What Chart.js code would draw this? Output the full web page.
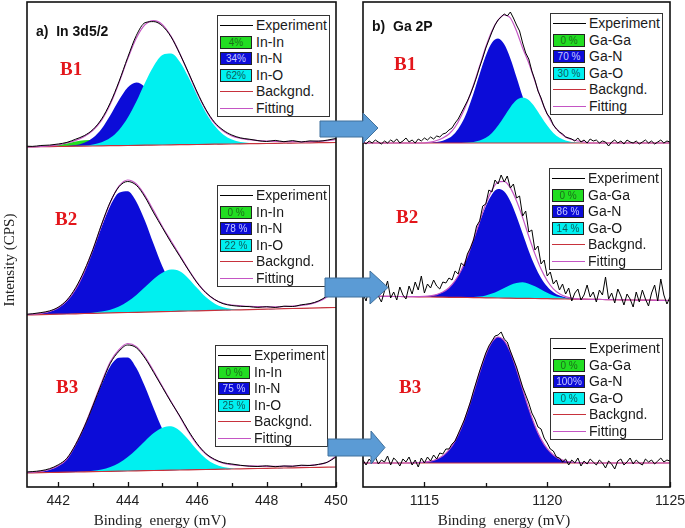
<!DOCTYPE html>
<html>
<head>
<meta charset="utf-8">
<script src="https://cdn.jsdelivr.net/npm/chart.js@4.4.1/dist/chart.umd.min.js"></script>
<style>
  html, body { margin: 0; padding: 0; background: #fff; }
  #wrap { position: relative; width: 685px; height: 528px; overflow: hidden; font-family: "Liberation Sans", Arial, sans-serif; }
  canvas { position: absolute; top: 0; }
  .leg { position: absolute; width: 113px; height: 102px; border: 1px solid #333; background: #fff; box-sizing: border-box; padding-top: 1px; }
  .row { position: relative; height: 16.6px; }
  .sw { position: absolute; left: 2px; top: 2px; width: 32px; height: 13px; box-sizing: border-box; border: 1px solid #222; font-size: 10px; line-height: 11px; text-align: center; }
  .ln { position: absolute; left: 2px; top: 8px; width: 33px; height: 0; border-top: 1.3px solid #000; }
  .tx { position: absolute; left: 38px; top: 0; font-size: 14px; line-height: 16.6px; color: #1a1a1a; white-space: nowrap; }
  .blab { position: absolute; font-family: "Liberation Serif", serif; font-weight: bold; font-size: 19px; color: #e3161b; transform: translateY(-50%); }
  .ptitle { position: absolute; font-weight: bold; font-size: 14px; color: #111; white-space: pre; transform: translateY(-50%); }
  .xt { position: absolute; top: 520px; font-family: "Liberation Serif", serif; font-size: 15px; color: #222; white-space: pre; transform: translate(-50%, -50%); }
  .yt { position: absolute; left: 9px; top: 260px; font-family: "Liberation Serif", serif; font-size: 15px; color: #222; white-space: nowrap; transform: translate(-50%, -50%) rotate(-90deg); }
</style>
</head>
<body>
<div id="wrap">
  <canvas id="cIn" width="360" height="528" style="left:0"></canvas>
  <canvas id="cGa" width="360" height="528" style="left:345px"></canvas>
  <div id="over"></div>
  <svg width="685" height="528" style="position:absolute;left:0;top:0">
    <polygon points="320,121 363,121 363,113 378,128 363,143 363,137 320,137" fill="#5b9bd5" stroke="#41719c" stroke-width="1"/>
    <polygon points="325,278 370,278 370,271 388,287.5 370,304 370,297 325,297" fill="#5b9bd5" stroke="#41719c" stroke-width="1"/>
    <polygon points="328,439 371,439 371,431 385,447.5 371,464 371,456 328,456" fill="#5b9bd5" stroke="#41719c" stroke-width="1"/>
  </svg>
</div>
<script>
// ---- data: In 3d5/2 (binding energy grid, heights above background) ----
const xIn = [441, 441.25, 441.5, 441.75, 442, 442.25, 442.5, 442.75, 443, 443.25, 443.5, 443.75, 444, 444.25, 444.5, 444.75, 445, 445.25, 445.5, 445.75, 446, 446.25, 446.5, 446.75, 447, 447.25, 447.5, 447.75, 448, 448.25, 448.5, 448.75, 449, 449.25, 449.5, 449.75, 450];
const xInTicks = [442, 444, 446, 448, 450];
const xInMinor = [443, 445, 447, 449];
const inOffsets = [340, 172, 14];

const inB1Bg = [0, 0.1, 0.3, 0.4, 0.5, 0.6, 0.8, 0.9, 1, 1.1, 1.3, 1.4, 1.5, 1.6, 1.8, 1.9, 2, 2.1, 2.3, 2.4, 2.5, 2.6, 2.8, 2.9, 3, 3.1, 3.3, 3.4, 3.5, 3.6, 3.8, 3.9, 4, 4.1, 4.3, 4.4, 4.5];
const inB1InIn = [0, 0, 0, 0.7, 1.6, 3, 4.6, 5.8, 5.9, 4.9, 3.3, 1.8, 0.8, 0.3, 0, 0, 0, 0, 0, 0, 0, 0, 0, 0, 0, 0, 0, 0, 0, 0, 0, 0, 0, 0, 0, 0, 0];
const inB1InN = [0, 0, 0, 0, 0, 0.4, 1.2, 3.4, 8.3, 17.2, 30.4, 45.5, 58, 63, 58, 45.5, 30.4, 17.2, 8.3, 3.4, 1.2, 0.4, 0, 0, 0, 0, 0, 0, 0, 0, 0, 0, 0, 0, 0, 0, 0];
const inB1InO = [0, 0, 0, 0, 0, 0, 0, 0.5, 1.5, 3.6, 7.9, 15.7, 27.8, 44, 62.5, 79, 90, 91.3, 83, 67.5, 49, 32, 18.7, 9.7, 4.5, 1.9, 0.7, 0, 0, 0, 0, 0, 0, 0, 0, 0, 0];
const inB1Fit = [0, 0, 0.3, 0.8, 1.7, 3.4, 5.8, 9.7, 15.7, 25.7, 41.6, 63, 86.6, 107.3, 120.5, 124.5, 120.4, 108.5, 91.3, 71.5, 51.5, 34.5, 21, 13, 8, 5.5, 4, 3, 2.5, 2, 1.5, 1.5, 1.2, 1.2, 1.5, 2, 3];
const inB1Exp = [1, 0.5, 1.2, 1.5, 2.5, 4, 7, 10.5, 16.5, 27, 43, 64, 88, 110, 122.5, 123.5, 119, 108, 91, 72, 52.5, 35, 22, 14, 9, 6, 4.5, 3, 2, 3, 1.5, 2.5, 1, 2, 1.5, 2.5, 4];

const inB2Bg = [0, 0.2, 0.4, 0.6, 0.8, 1, 1.2, 1.5, 1.7, 1.9, 2.1, 2.3, 2.5, 2.7, 2.9, 3.1, 3.3, 3.5, 3.8, 4, 4.2, 4.4, 4.6, 4.8, 5, 5.2, 5.4, 5.6, 5.8, 6, 6.3, 6.5, 6.7, 6.9, 7.1, 7.3, 7.5];
const inB2InN = [0, 0.4, 1.1, 2.7, 6.3, 13.1, 24.5, 41.4, 63, 86.3, 107.2, 120, 121.3, 110.6, 91, 67.6, 45.3, 27.5, 14.9, 7.4, 3.3, 1.4, 0.5, 0, 0, 0, 0, 0, 0, 0, 0, 0, 0, 0, 0, 0, 0];
const inB2InO = [0, 0, 0, 0, 0, 0, 0, 0, 0.6, 1.5, 3.1, 6.2, 10.9, 17.4, 25.2, 33, 39, 42, 40, 32.6, 22.8, 13.6, 6.9, 3, 1.1, 0.4, 0, 0, 0, 0, 0, 0, 0, 0, 0, 0, 0];
const inB2Fit = [0.3, 0.6, 1.3, 2.9, 6.5, 13.3, 24.7, 41.6, 63.6, 88, 110.5, 126.5, 132.5, 128.3, 116.5, 101, 85, 70.5, 56, 41.5, 28.5, 18, 11, 7, 5, 4, 3.2, 2.8, 2.4, 2.2, 2.2, 2.4, 3, 4, 6.5, 11, 19];
const inB2Exp = [0.5, 1, 2, 3.5, 7, 14, 26, 43, 64, 89, 111, 126, 131, 127, 115, 99, 84, 69, 55, 41, 28, 18, 11, 6.5, 4.5, 3.5, 3, 2, 2.5, 1.5, 2.5, 2, 3.5, 4.5, 7, 12, 20];

const inB3Bg = [0, 0.2, 0.3, 0.5, 0.7, 0.8, 1, 1.2, 1.3, 1.5, 1.7, 1.8, 2, 2.2, 2.3, 2.5, 2.7, 2.8, 3, 3.2, 3.3, 3.5, 3.7, 3.8, 4, 4.2, 4.3, 4.5, 4.7, 4.8, 5, 5.2, 5.3, 5.5, 5.7, 5.8, 6];
const inB3InN = [0, 0.4, 1.1, 2.8, 6.3, 13, 27, 45, 66, 87, 105, 113.4, 113.6, 102.8, 83.9, 61.9, 41.1, 24.7, 13.4, 6.5, 2.9, 1.2, 0.4, 0, 0, 0, 0, 0, 0, 0, 0, 0, 0, 0, 0, 0, 0];
const inB3InO = [0, 0, 0, 0, 0, 0, 0, 0, 0.9, 2.1, 4.4, 8.2, 13.9, 21.4, 29.7, 37.4, 42.6, 44, 39.3, 30.1, 19.8, 11.1, 5.3, 2.2, 0.8, 0, 0, 0, 0, 0, 0, 0, 0, 0, 0, 0, 0];
const inB3Fit = [0.3, 0.6, 1.3, 3, 6.5, 13.2, 27.2, 45.2, 66.9, 89.1, 109.4, 121.6, 127.5, 124.2, 113.6, 99.3, 83.7, 68.7, 53.5, 38, 25, 15.5, 9.5, 6, 4.3, 3.3, 2.8, 2.4, 2, 1.8, 1.8, 1.8, 2, 2.2, 2.8, 5, 11];
const inB3Exp = [0.8, 1.2, 2, 3.8, 7.5, 14, 27.5, 45, 66, 88, 108, 120, 126, 123, 112.5, 98, 83, 68, 54, 39, 26, 16, 10, 6.5, 5, 3.5, 2.5, 2, 2.5, 1.5, 2, 1.5, 2.5, 2, 3, 5, 10];

// ---- data: Ga 2P ----
const xGa = [1112.5, 1112.75, 1113, 1113.25, 1113.5, 1113.75, 1114, 1114.25, 1114.5, 1114.75, 1115, 1115.25, 1115.5, 1115.75, 1116, 1116.25, 1116.5, 1116.75, 1117, 1117.25, 1117.5, 1117.75, 1118, 1118.25, 1118.5, 1118.75, 1119, 1119.25, 1119.5, 1119.75, 1120, 1120.25, 1120.5, 1120.75, 1121, 1121.25, 1121.5, 1121.75, 1122, 1122.25, 1122.5, 1122.75, 1123, 1123.25, 1123.5, 1123.75, 1124, 1124.25, 1124.5, 1124.75, 1125];
const xGaExp = [1112.5, 1112.625, 1112.75, 1112.875, 1113, 1113.125, 1113.25, 1113.375, 1113.5, 1113.625, 1113.75, 1113.875, 1114, 1114.125, 1114.25, 1114.375, 1114.5, 1114.625, 1114.75, 1114.875, 1115, 1115.125, 1115.25, 1115.375, 1115.5, 1115.625, 1115.75, 1115.875, 1116, 1116.125, 1116.25, 1116.375, 1116.5, 1116.625, 1116.75, 1116.875, 1117, 1117.125, 1117.25, 1117.375, 1117.5, 1117.625, 1117.75, 1117.875, 1118, 1118.125, 1118.25, 1118.375, 1118.5, 1118.625, 1118.75, 1118.875, 1119, 1119.125, 1119.25, 1119.375, 1119.5, 1119.625, 1119.75, 1119.875, 1120, 1120.125, 1120.25, 1120.375, 1120.5, 1120.625, 1120.75, 1120.875, 1121, 1121.125, 1121.25, 1121.375, 1121.5, 1121.625, 1121.75, 1121.875, 1122, 1122.125, 1122.25, 1122.375, 1122.5, 1122.625, 1122.75, 1122.875, 1123, 1123.125, 1123.25, 1123.375, 1123.5, 1123.625, 1123.75, 1123.875, 1124, 1124.125, 1124.25, 1124.375, 1124.5, 1124.625, 1124.75, 1124.875, 1125];
const xGaTicks = [1115, 1120, 1125];
const xGaMinor = [1117.5, 1122.5];
const gaOffsets = [344, 191, 24];

const gaB1Bg = [0, 0, 0, 0, 0, 0, 0, 0, 0, 0, 0, 0, 0, 0, 0, 0, 0, 0, 0, 0, 0, 0, 0, 0, 0, 0, 0, 0, 0, 0, 0, 0, 0, 0, 0, 0, 0, 0, 0, 0, 0, 0, 0, 0, 0, 0, 0, 0, 0, 0, 0];
const gaB1GaN = [0, 0, 0, 0, 0, 0, 0, 0, 0, 0, 0.1, 0.3, 0.9, 2.2, 4.9, 10.1, 18.9, 32.1, 49.4, 68.9, 87.3, 100.3, 104.5, 98.7, 84.6, 65.8, 46.4, 29.6, 17.2, 9, 4.3, 1.9, 0.7, 0.3, 0, 0, 0, 0, 0, 0, 0, 0, 0, 0, 0, 0, 0, 0, 0, 0, 0];
const gaB1GaO = [0, 0, 0, 0, 0, 0, 0, 0, 0, 0, 0, 0, 0, 0, 0, 0, 0, 0.4, 1, 2.4, 5.2, 10.1, 17.4, 26.5, 35.8, 42.9, 45.5, 42.9, 35.8, 26.5, 17.4, 10.1, 5.2, 2.4, 1, 0.4, 0, 0, 0, 0, 0, 0, 0, 0, 0, 0, 0, 0, 0, 0, 0];
const gaB1Fit = [0, 0, 0, 0, 0, 0, 0, 0, 0, 0, 0, 0.8, 2.5, 5, 9, 16, 27, 41, 58, 77, 96, 112, 123, 128, 125, 112, 95, 80, 62, 44, 29, 18, 11, 6, 3.5, 2, 1, 0, 0, 0, 0, 0, 0, 0, 0, 0, 0, 0, 0, 0, 0];
const gaB1Exp = [1, -1, 2, 0, 3, 1, -1, 2, 0, 3, 1, 4, 0, 2, 5, 1, 3, 0, 4, 2, 5, 3, 6, 4, 7, 6, 9, 10, 13, 15, 20, 24, 30, 36, 42, 49, 57, 66, 76, 85, 95, 103, 111, 118, 123, 126, 129, 127, 131, 125, 118, 112, 100, 90, 84, 72, 63, 52, 45, 36, 29, 25, 18, 14, 11, 9, 6, 5, 4, 2, 5, 1, 3, 0, 4, 2, 3, 0, 2, 1, -3, 1, 3, 0, 2, -1, 3, 1, 0, 2, -1, 1, 3, 0, 2, -1, 1, 3, 0, 2, 1];

const gaB2Bg = [0, -0.1, -0.2, -0.3, -0.4, -0.5, -0.5, -0.6, -0.7, -0.8, -0.9, -1, -1.1, -1.2, -1.3, -1.4, -1.4, -1.5, -1.6, -1.7, -1.8, -1.9, -2, -2.1, -2.2, -2.3, -2.3, -2.4, -2.5, -2.6, -2.7, -2.8, -2.9, -3, -3.1, -3.2, -3.2, -3.3, -3.4, -3.5, -3.6, -3.7, -3.8, -3.9, -4, -4.1, -4.1, -4.2, -4.3, -4.4, -4.5];
const gaB2GaN = [0, 0, 0, 0, 0, 0, 0, 0, 0, 0.2, 0.5, 1.2, 2.5, 5.1, 9.6, 16.8, 27.2, 41, 57.6, 75.3, 91.5, 103.5, 109, 106.5, 97, 82.1, 64.7, 47.4, 32.4, 20.5, 12.1, 6.6, 3.4, 1.6, 0.7, 0.3, 0, 0, 0, 0, 0, 0, 0, 0, 0, 0, 0, 0, 0, 0, 0];
const gaB2GaO = [0, 0, 0, 0, 0, 0, 0, 0, 0, 0, 0, 0, 0, 0, 0, 0, 0, 0, 0.5, 1.2, 2.4, 4.3, 7, 10.2, 13.3, 15.4, 16, 14.7, 12.2, 9, 5.9, 3.4, 1.8, 0.8, 0.3, 0, 0, 0, 0, 0, 0, 0, 0, 0, 0, 0, 0, 0, 0, 0, 0];
const gaB2Fit = [0, 0, 0, 0, 0, 0, 0, 0, 0, 0.2, 0.5, 1.2, 2.5, 5.1, 9.6, 16.8, 27.2, 41, 58.1, 76.5, 93.9, 107.8, 116, 116.7, 110.3, 97.5, 80.7, 62.1, 44.6, 29.5, 18, 10, 5.2, 2.4, 1, 0.3, 0, 0, 0, 0, 0, 0, 0, 0, 0, 0, 0, 0, 0, 0, 0];
const gaB2Exp = [2, -5, 8, -3, 12, 0, -6, 5, 15, -2, 4, -4, 9, 1, -3, 10, 2, 14, 6, 20, 3, 12, 8, 16, 10, 7, 14, 13, 18, 16, 25, 22, 33, 30, 42, 48, 56, 70, 75, 90, 92, 106, 104, 116, 112, 121, 114, 120, 108, 112, 98, 100, 80, 85, 64, 66, 46, 50, 32, 36, 20, 24, 12, 16, 6, 12, 2, 8, -5, 3, 7, -4, 1, 11, -1, 4, -6, 6, 1, 19, -3, 3, -7, 7, 0, -9, 2, -3, -11, 4, -6, 6, -3, -10, 3, 11, -5, 17, 1, -8, -1];

const gaB3Bg = [0, 0, 0, 0, 0, 0, 0, 0, 0, 0, 0, 0, 0, 0, 0, 0, 0, 0, 0, 0, 0, 0, 0, 0, 0, 0, 0, 0, 0, 0, 0, 0, 0, 0, 0, 0, 0, 0, 0, 0, 0, 0, 0, 0, 0, 0, 0, 0, 0, 0, 0];
const gaB3GaN = [0, 0, 0, 0, 0, 0, 0, 0, 0.1, 0.3, 0.8, 1.8, 3.7, 7.2, 13.1, 22.1, 34.9, 51.4, 70.7, 90.7, 108.5, 121, 126, 122.3, 110.9, 93.7, 73.9, 54.4, 37.3, 23.9, 14.3, 8, 4.1, 2, 0.9, 0.4, 0.1, 0, 0, 0, 0, 0, 0, 0, 0, 0, 0, 0, 0, 0, 0];
const gaB3Fit = [0, 0, 0, 0, 0, 0, 0, 0, 0.1, 0.3, 0.8, 1.8, 3.7, 7.2, 13.1, 22.1, 34.9, 51.4, 70.7, 90.7, 108.5, 121, 126, 122.3, 110.9, 93.7, 73.9, 54.4, 37.3, 23.9, 14.3, 8, 4.1, 2, 0.9, 0.4, 0.1, 0, 0, 0, 0, 0, 0, 0, 0, 0, 0, 0, 0, 0, 0];
const gaB3Exp = [3, -2, 4, 0, 6, -1, 3, 1, 7, -2, 5, 2, -3, 4, 1, 6, -2, 3, -4, 5, 0, 6, 2, 8, 4, 10, 9, 14, 14, 19, 22, 29, 36, 43, 52, 61, 72, 82, 92, 101, 110, 117, 122, 127, 128, 131, 124, 121, 112, 104, 96, 86, 76, 68, 60, 50, 44, 36, 34, 25, 20, 14, 12, 6, 5, 1, 4, -2, 3, 0, 5, -3, 2, -1, 4, 1, -2, 3, 0, -5, 2, -1, -6, 2, 4, -2, 1, 5, -1, 3, 0, -2, 4, 1, 3, -1, 2, 5, 1, 3, 2];

// legend text
const legIn = ["Experiment", "In-In", "In-N", "In-O", "Backgnd.", "Fitting"];
const legGa = ["Experiment", "Ga-Ga", "Ga-N", "Ga-O", "Backgnd.", "Fitting"];
const pctIn = [["4%", "34%", "62%"], ["0 %", "78 %", "22 %"], ["0 %", "75 %", "25 %"]];
const pctGa = [["0 %", "70 %", "30 %"], ["0 %", "86 %", "14 %"], ["0 %", "100%", "0 %"]];
const rowNames = ["B1", "B2", "B3"];

const GREEN = "#22dd22", BLUE = "#0c0cd8", CYAN = "#00f0f0";
const EXP_C = "#000000", FIT_C = "#c455c4", BG_C = "#c8323c";

Chart.defaults.font.family = "'Liberation Sans', Arial, sans-serif";

function pts(xs, ys) {
  return xs.map((x, i) => ({ x: x, y: ys[i] }));
}

function buildSets(rows, x, xe, expOnBg) {
  const sets = [];
  rows.forEach(r => {
    const bgIdx = sets.length + 2;
    sets.push({
      data: pts(xe, r.exp.map((v, i) => r.off + v + (expOnBg ? r.bg[i] : 0))),
      borderColor: EXP_C, borderWidth: 1, pointRadius: 0, fill: false,
      cubicInterpolationMode: expOnBg ? "monotone" : "default", tension: 0
    });
    sets.push({
      data: pts(x, r.fit.map((v, i) => r.off + r.bg[i] + v)),
      borderColor: FIT_C, borderWidth: 1.2, pointRadius: 0, fill: false, cubicInterpolationMode: "monotone"
    });
    sets.push({
      data: pts(x, r.bg.map(v => r.off + v)),
      borderColor: BG_C, borderWidth: 1.2, pointRadius: 0, fill: false
    });
    r.comps.forEach(c => {
      sets.push({
        data: pts(x, c.vals.map((v, i) => r.off + r.bg[i] + v)),
        borderColor: "transparent", borderWidth: 0, pointRadius: 0,
        backgroundColor: c.color, fill: bgIdx, cubicInterpolationMode: "monotone"
      });
    });
  });
  return sets;
}

const framePlugin = {
  id: "frame",
  afterDatasetsDraw(chart, args, o) {
    const ctx = chart.ctx, a = chart.chartArea, sx = chart.scales.x;
    ctx.save();
    ctx.strokeStyle = "#111";
    ctx.lineWidth = 1.6;
    ctx.strokeRect(a.left, a.top, a.right - a.left, a.bottom - a.top);
    ctx.lineWidth = 1.3;
    ctx.beginPath();
    o.major.forEach(v => {
      const p = Math.round(sx.getPixelForValue(v)) + 0.5;
      ctx.moveTo(p, a.bottom); ctx.lineTo(p, a.bottom - 5);
    });
    o.minor.forEach(v => {
      const p = Math.round(sx.getPixelForValue(v)) + 0.5;
      ctx.moveTo(p, a.bottom); ctx.lineTo(p, a.bottom - 4);
    });
    ctx.stroke();
    ctx.restore();
  }
};

function makeChart(id, sets, xmin, xmax, ticks, minor, yW, padR) {
  return new Chart(document.getElementById(id), {
    type: "line",
    data: { datasets: sets },
    plugins: [framePlugin],
    options: {
      responsive: false,
      animation: false,
      layout: { padding: { top: 2, right: padR, left: 0, bottom: 0 } },
      plugins: {
        legend: { display: false },
        tooltip: { enabled: false },
        frame: { major: ticks, minor: minor }
      },
      scales: {
        x: {
          type: "linear", min: xmin, max: xmax,
          grid: { display: false, drawTicks: false },
          border: { display: false },
          afterBuildTicks: ax => { ax.ticks = ticks.map(v => ({ value: v })); },
          afterFit: s => { s.height = 41; },
          ticks: { padding: 6, color: "#222", font: { size: 14 }, maxRotation: 0, autoSkip: false,
                   callback: v => String(v) }
        },
        y: {
          min: 0, max: 485,
          grid: { display: false, drawTicks: false },
          border: { display: false },
          ticks: { display: false },
          afterFit: s => { s.width = yW; }
        }
      }
    }
  });
}

const inRows = [
  { off: inOffsets[0], bg: inB1Bg, exp: inB1Exp, fit: inB1Fit,
    comps: [{ vals: inB1InO, color: CYAN }, { vals: inB1InN, color: BLUE }, { vals: inB1InIn, color: GREEN }] },
  { off: inOffsets[1], bg: inB2Bg, exp: inB2Exp, fit: inB2Fit,
    comps: [{ vals: inB2InO, color: CYAN }, { vals: inB2InN, color: BLUE }] },
  { off: inOffsets[2], bg: inB3Bg, exp: inB3Exp, fit: inB3Fit,
    comps: [{ vals: inB3InO, color: CYAN }, { vals: inB3InN, color: BLUE }] }
];
const gaRows = [
  { off: gaOffsets[0], bg: gaB1Bg, exp: gaB1Exp, fit: gaB1Fit,
    comps: [{ vals: gaB1GaO, color: CYAN }, { vals: gaB1GaN, color: BLUE }] },
  { off: gaOffsets[1], bg: gaB2Bg, exp: gaB2Exp, fit: gaB2Fit,
    comps: [{ vals: gaB2GaO, color: CYAN }, { vals: gaB2GaN, color: BLUE }] },
  { off: gaOffsets[2], bg: gaB3Bg, exp: gaB3Exp, fit: gaB3Fit,
    comps: [{ vals: gaB3GaN, color: BLUE }] }
];

makeChart("cIn", buildSets(inRows, xIn, xIn, true), 441.1, 450, xInTicks, xInMinor, 27, 24);
makeChart("cGa", buildSets(gaRows, xGa, xGaExp, false), 1112.5, 1125, xGaTicks, xGaMinor, 18, 35);

// ---- overlays: legends, labels, titles ----
const over = document.getElementById("over");
function add(html) { over.insertAdjacentHTML("beforeend", html); }

const legSpots = [[217, 15], [217, 185], [215, 345], [550, 13], [549, 168], [550, 338]];
const swColors = [[GREEN, "#1b6e1b"], [BLUE, "#c8c8ff"], [CYAN, "#0d5c5c"]];

function legend(pos, names, pcts) {
  let h = '<div class="leg" style="left:' + pos[0] + 'px;top:' + pos[1] + 'px">';
  names.forEach((n, i) => {
    let sw;
    if (i === 0) sw = '<div class="ln" style="border-color:' + EXP_C + '"></div>';
    else if (i === 4) sw = '<div class="ln" style="border-color:' + BG_C + '"></div>';
    else if (i === 5) sw = '<div class="ln" style="border-color:' + FIT_C + '"></div>';
    else sw = '<div class="sw" style="background:' + swColors[i - 1][0] + ';color:' + swColors[i - 1][1] + '">' + pcts[i - 1] + '</div>';
    h += '<div class="row">' + sw + '<div class="tx">' + n + '</div></div>';
  });
  add(h + '</div>');
}
for (let r = 0; r < 3; r++) {
  legend(legSpots[r], legIn, pctIn[r]);
  legend(legSpots[r + 3], legGa, pctGa[r]);
}

const bSpots = [[60, 69], [55, 219], [56, 387], [394, 64], [396, 217], [399, 387]];
bSpots.forEach((p, i) => add('<div class="blab" style="left:' + p[0] + 'px;top:' + p[1] + 'px">' + rowNames[i % 3] + '</div>'));

add('<div class="ptitle" style="left:36px;top:31px">a)  In 3d5/2</div>');
add('<div class="ptitle" style="left:372px;top:26px">b)  Ga 2P</div>');
add('<div class="xt" style="left:160px">Binding  energy (mV)</div>');
add('<div class="xt" style="left:504px">Binding  energy (mV)</div>');
add('<div class="yt">Intensity (CPS)</div>');
</script>
</body>
</html>
